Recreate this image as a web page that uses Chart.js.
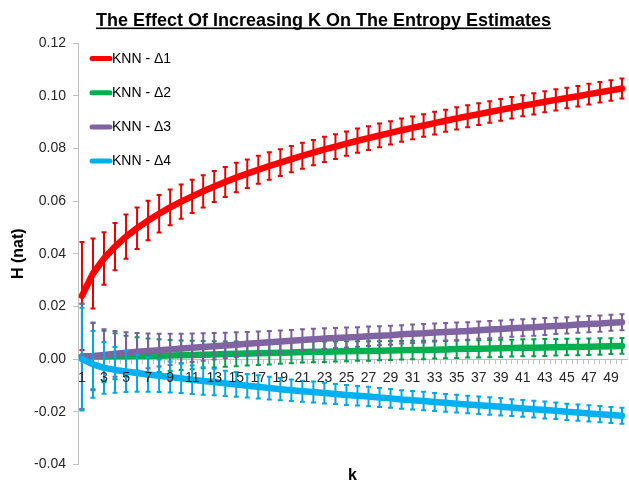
<!DOCTYPE html>
<html>
<head>
<meta charset="utf-8">
<script src="https://cdn.jsdelivr.net/npm/chart.js@4.4.1/dist/chart.umd.min.js"></script>
<style>
html,body{margin:0;padding:0;background:#fff;}
#wrap{width:629px;height:485px;position:relative;}
</style>
</head>
<body>
<div id="wrap"><canvas id="c" width="629" height="485"></canvas></div>
<script>
const chartTitle = 'The Effect Of Increasing K On The Entropy Estimates';
const yAxisTitle = 'H (nat)';
const xAxisTitle = 'k';
const seriesNames = ['KNN - Δ1', 'KNN - Δ2', 'KNN - Δ3', 'KNN - Δ4'];
const yTickValues = [-0.04, -0.02, 0.00, 0.02, 0.04, 0.06, 0.08, 0.10, 0.12];

const kValues = [1,2,3,4,5,6,7,8,9,10,11,12,13,14,15,16,17,18,19,20,21,22,23,24,25,
  26,27,28,29,30,31,32,33,34,35,36,37,38,39,40,41,42,43,44,45,46,47,48,49,50];

const hDelta1 = [0.0240,0.0325,0.0382,0.0427,0.0465,0.0497,0.0526,0.0552,0.0576,0.0598,
  0.0618,0.0637,0.0655,0.0672,0.0689,0.0704,0.0719,0.0733,0.0746,0.0759,
  0.0772,0.0784,0.0796,0.0807,0.0818,0.0829,0.0839,0.0849,0.0859,0.0869,
  0.0878,0.0887,0.0896,0.0905,0.0914,0.0922,0.0930,0.0938,0.0946,0.0954,
  0.0962,0.0969,0.0977,0.0984,0.0991,0.0998,0.1006,0.1013,0.1020,0.1027];
const errDelta1 = [0.0205,0.0133,0.0100,0.0090,0.0084,0.0079,0.0075,0.0071,0.0068,0.0065,
  0.0063,0.0061,0.0059,0.0057,0.0056,0.0054,0.0053,0.0052,0.0051,0.0050,
  0.0049,0.0048,0.0048,0.0047,0.0046,0.0046,0.0045,0.0045,0.0044,0.0044,
  0.0043,0.0043,0.0043,0.0042,0.0042,0.0042,0.0041,0.0041,0.0041,0.0041,
  0.0040,0.0040,0.0040,0.0040,0.0039,0.0039,0.0039,0.0039,0.0039,0.0038];

const hDelta2 = [0.0010,0.0010,0.0010,0.0011,0.0011,0.0012,0.0012,0.0013,0.0014,0.0015,
  0.0016,0.0017,0.0018,0.0019,0.0020,0.0021,0.0022,0.0023,0.0024,0.0025,
  0.0027,0.0028,0.0028,0.0029,0.0030,0.0031,0.0031,0.0032,0.0033,0.0034,
  0.0035,0.0035,0.0036,0.0037,0.0038,0.0039,0.0039,0.0040,0.0041,0.0042,
  0.0043,0.0043,0.0044,0.0045,0.0046,0.0046,0.0047,0.0048,0.0049,0.0050];
const errDelta2 = [0.0200,0.0128,0.0098,0.0087,0.0078,0.0071,0.0066,0.0062,0.0059,0.0056,
  0.0054,0.0052,0.0050,0.0048,0.0047,0.0045,0.0044,0.0043,0.0042,0.0041,
  0.0040,0.0040,0.0039,0.0038,0.0038,0.0037,0.0037,0.0036,0.0036,0.0035,
  0.0035,0.0035,0.0034,0.0034,0.0034,0.0033,0.0033,0.0033,0.0033,0.0032,
  0.0032,0.0032,0.0032,0.0031,0.0031,0.0031,0.0031,0.0031,0.0030,0.0030];

const hDelta3 = [0.0010,0.0012,0.0016,0.0020,0.0024,0.0028,0.0031,0.0034,0.0037,0.0040,
  0.0043,0.0046,0.0049,0.0052,0.0055,0.0058,0.0061,0.0064,0.0067,0.0070,
  0.0073,0.0075,0.0078,0.0080,0.0082,0.0084,0.0087,0.0089,0.0091,0.0094,
  0.0096,0.0098,0.0101,0.0103,0.0105,0.0107,0.0110,0.0112,0.0114,0.0117,
  0.0119,0.0121,0.0124,0.0126,0.0128,0.0131,0.0133,0.0135,0.0138,0.0140];
const errDelta3 = [0.0200,0.0126,0.0097,0.0087,0.0078,0.0071,0.0066,0.0062,0.0059,0.0056,
  0.0054,0.0052,0.0050,0.0048,0.0047,0.0045,0.0044,0.0043,0.0042,0.0041,
  0.0040,0.0040,0.0039,0.0038,0.0038,0.0037,0.0037,0.0036,0.0036,0.0035,
  0.0035,0.0035,0.0034,0.0034,0.0034,0.0033,0.0033,0.0033,0.0033,0.0032,
  0.0032,0.0032,0.0032,0.0031,0.0031,0.0031,0.0031,0.0031,0.0030,0.0030];

const hDelta4 = [0.0000,-0.0020,-0.0033,-0.0041,-0.0047,-0.0053,-0.0058,-0.0063,-0.0068,-0.0073,
  -0.0078,-0.0083,-0.0087,-0.0092,-0.0096,-0.0101,-0.0105,-0.0110,-0.0114,-0.0118,
  -0.0122,-0.0125,-0.0129,-0.0132,-0.0136,-0.0139,-0.0142,-0.0146,-0.0149,-0.0153,
  -0.0156,-0.0159,-0.0163,-0.0166,-0.0169,-0.0172,-0.0175,-0.0178,-0.0181,-0.0184,
  -0.0187,-0.0190,-0.0193,-0.0196,-0.0200,-0.0203,-0.0206,-0.0209,-0.0212,-0.0215];
const errDelta4 = [0.0195,0.0127,0.0098,0.0087,0.0078,0.0071,0.0066,0.0062,0.0059,0.0056,
  0.0054,0.0052,0.0050,0.0048,0.0047,0.0045,0.0044,0.0043,0.0042,0.0041,
  0.0040,0.0040,0.0039,0.0038,0.0038,0.0037,0.0037,0.0036,0.0036,0.0035,
  0.0035,0.0035,0.0034,0.0034,0.0034,0.0033,0.0033,0.0033,0.0033,0.0032,
  0.0032,0.0032,0.0032,0.0031,0.0031,0.0031,0.0031,0.0031,0.0030,0.0030];

const lineColors = ['#FF0000', '#00B050', '#8064A2', '#00B0F0'];
const barColors  = ['#E60000', '#00A04A', '#7A5F9C', '#00A6E6'];

const FONT = '"Liberation Sans", Arial, sans-serif';

function pts(vals) { return kValues.map((k, i) => ({x: k, y: vals[i]})); }

const values = [hDelta1, hDelta2, hDelta3, hDelta4];
const errors = [errDelta1, errDelta2, errDelta3, errDelta4];

const datasets = seriesNames.map((name, i) => ({
  label: name,
  data: pts(values[i]),
  errors: errors[i],
  errorColor: barColors[i],
  borderColor: lineColors[i],
  backgroundColor: lineColors[i],
  borderWidth: 6.5,
  pointRadius: 0,
  tension: 0,
  borderCapStyle: 'round',
  borderJoinStyle: 'round',
  fill: false,
  order: 4 - i
}));

const errorBarPlugin = {
  id: 'errorBars',
  beforeDatasetDraw(chart, args) {
    const ds = chart.data.datasets[args.index];
    if (!ds.errors) return;
    const xs = chart.scales.x, ys = chart.scales.y, ctx = chart.ctx, a = chart.chartArea;
    ctx.save();
    ctx.beginPath();
    ctx.rect(a.left, a.top, a.right - a.left, a.bottom - a.top);
    ctx.clip();
    ctx.strokeStyle = ds.errorColor;
    ctx.lineWidth = 2;
    ds.data.forEach((p, i) => {
      const e = ds.errors[i];
      const x = xs.getPixelForValue(p.x);
      const yT = ys.getPixelForValue(p.y + e);
      const yB = ys.getPixelForValue(p.y - e);
      ctx.beginPath();
      ctx.moveTo(x, yT); ctx.lineTo(x, yB);
      ctx.moveTo(x - 2.5, yT); ctx.lineTo(x + 2.5, yT);
      ctx.moveTo(x - 2.5, yB); ctx.lineTo(x + 2.5, yB);
      ctx.stroke();
    });
    ctx.restore();
  }
};

const legendTitlePlugin = {
  id: 'legendTitle',
  afterDraw(chart) {
    const ctx = chart.ctx;
    ctx.save();
    ctx.font = 'bold 18px ' + FONT;
    ctx.fillStyle = '#000';
    ctx.textAlign = 'center';
    ctx.textBaseline = 'alphabetic';
    const tx = 323.5, ty = 25.5;
    ctx.fillText(chartTitle, tx, ty);
    const w = ctx.measureText(chartTitle).width;
    ctx.fillRect(tx - w / 2, ty + 2, w, 1.6);
    ctx.font = '14px ' + FONT;
    ctx.textAlign = 'left';
    ctx.textBaseline = 'middle';
    seriesNames.forEach((name, i) => {
      const y = 58.5 + i * 34.2;
      ctx.strokeStyle = lineColors[i];
      ctx.lineWidth = 5;
      ctx.lineCap = 'round';
      ctx.beginPath();
      ctx.moveTo(92, y); ctx.lineTo(110, y);
      ctx.stroke();
      ctx.fillStyle = '#000';
      ctx.fillText(name, 112, y + 0.5);
    });
    ctx.restore();
  }
};

const xTicks = [];
for (let i = 0; i < kValues.length; i++) {
  xTicks.push(kValues[i]);
  if (i < kValues.length - 1) xTicks.push(kValues[i] + 0.5);
}

new Chart(document.getElementById('c'), {
  type: 'line',
  data: { datasets },
  options: {
    responsive: false,
    devicePixelRatio: 1,
    animation: false,
    layout: { padding: { top: 43, left: 9, right: 0, bottom: 0 } },
    plugins: { legend: { display: false }, title: { display: false }, tooltip: { enabled: false } },
    scales: {
      x: {
        type: 'linear',
        position: { y: 0 },
        min: 0.64,
        max: 50.46,
        afterBuildTicks(scale) { scale.ticks = xTicks.map(v => ({ value: v })); },
        ticks: {
          z: 1,
          autoSkip: false,
          maxRotation: 0,
          padding: 7,
          color: '#262626',
          font: { family: FONT, size: 14 },
          callback: (v) => (Number.isInteger(v) && v % 2 === 1) ? String(v) : ''
        },
        grid: { drawOnChartArea: false, drawTicks: true, tickLength: 4, color: '#BFBFBF' },
        border: { display: true, color: '#BFBFBF', width: 1 }
      },
      x2: {
        axis: 'x',
        type: 'linear',
        position: 'bottom',
        ticks: { display: false },
        grid: { display: false, drawTicks: false },
        border: { display: false },
        title: { display: true, text: xAxisTitle, color: '#000', font: { family: FONT, size: 16, weight: 'bold' }, padding: { top: 2, bottom: 0 } },
        afterFit(scale) { scale.height = 20.5; }
      },
      y: {
        type: 'linear',
        position: 'left',
        min: -0.04,
        max: 0.12,
        afterBuildTicks(scale) { scale.ticks = yTickValues.map(v => ({ value: v })); },
        ticks: {
          padding: 7,
          color: '#262626',
          font: { family: FONT, size: 14 },
          callback: (v) => Number(v).toFixed(2)
        },
        grid: { drawOnChartArea: false, drawTicks: true, tickLength: 5, color: '#BFBFBF' },
        border: { display: true, color: '#BFBFBF', width: 1 },
        title: { display: true, text: yAxisTitle, color: '#000', font: { family: FONT, size: 16, weight: 'bold' }, padding: { top: 0, bottom: 0 } },
        afterFit(scale) { scale.width = 69; }
      }
    }
  },
  plugins: [errorBarPlugin, legendTitlePlugin]
});
</script>
</body>
</html>
